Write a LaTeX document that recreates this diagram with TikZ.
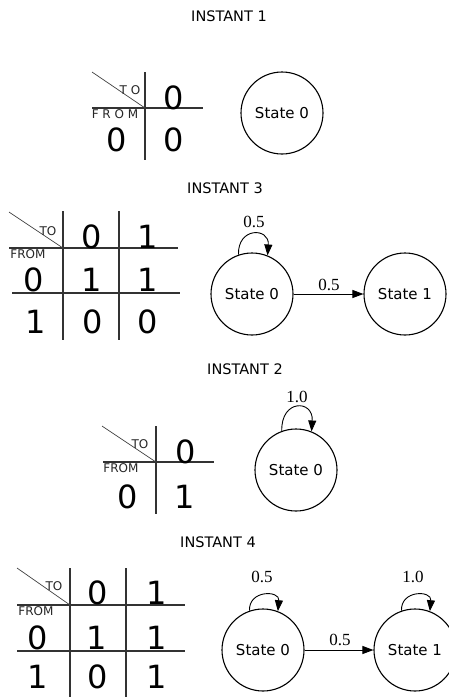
\documentclass[tikz,border=0pt]{standalone}
\usepackage{fontspec}
\setmainfont{DejaVu Sans}
\newfontfamily\lblfont{Liberation Serif}
\usetikzlibrary{arrows.meta}
\tikzset{
  title/.style={font=\fontsize{14.5}{16}\selectfont, inner sep=0pt},
  dig/.style={font=\fontsize{32}{34}\selectfont, inner sep=0pt},
  small/.style={font=\fontsize{12}{13}\selectfont, inner sep=0pt, text=black!85},
  tline/.style={line width=1.5pt, draw=black!80},
  diag/.style={line width=0.7pt, draw=black!75},
  state/.style={circle, draw, line width=1.1pt, minimum size=82pt, inner sep=0pt, font=\fontsize{15}{16}\selectfont},
  elabel/.style={font=\lblfont\fontsize{17}{18}\selectfont, inner sep=0pt},
  edge/.style={line width=0.9pt, -{Triangle[length=11pt,width=8pt]}},
}
\begin{document}
\begin{tikzpicture}[x=1pt,y=-1pt]
\useasboundingbox (0,0) rectangle (449,697);
\clip (0,0) rectangle (449,697);

% ---------------- INSTANT 1 ----------------
\node[title] (t1) at (229,16) {INSTANT 1};
\draw[tline] (145,72) -- (145,160);
\draw[tline] (92,108) -- (203,108);
\draw[diag] (92,72) -- (145,108);
\node[small] (a1to) at (130,90) {T O};
\node[small] (a1from) at (115,114) {F R O M};
\node[dig] (a1h0) at (174,98) {0};
\node[dig] (a1r0) at (117,140) {0};
\node[dig] (a1c00) at (174,140) {0};
\node[state] (a1s0) at (282,113) {State 0};

% ---------------- INSTANT 3 ----------------
\node[title] (t3) at (225,188) {INSTANT 3};
\draw[tline] (63,211) -- (63,340);
\draw[tline] (119,211) -- (119,340);
\draw[tline] (9,248) -- (178,248);
\draw[tline] (12,293) -- (180,293);
\draw[diag] (9,212) -- (63,248);
\node[small] (a3to) at (48,231) {TO};
\node[small] (a3from) at (28,254) {FROM};
\node[dig] (a3h0) at (92,237) {0};
\node[dig] (a3h1) at (148,237) {1};
\node[dig] (a3r0) at (34,280) {0};
\node[dig] (a3c00) at (92,280) {1};
\node[dig] (a3c01) at (148,280) {1};
\node[dig] (a3r1) at (36,322) {1};
\node[dig] (a3c10) at (93,322) {0};
\node[dig] (a3c11) at (148,322) {0};
\node[state] (a3s0) at (252,294) {State 0};
\node[state] (a3s1) at (405,294) {State 1};
\draw[edge] (a3s0) -- (a3s1);
\node[elabel] (a3e01) at (329,285) {0.5};
\draw[edge] (a3s0.109) .. controls +(-1,-28) and +(2,-28) .. (a3s0.68);
\node[elabel] (a3e00) at (254,222) {0.5};

% ---------------- INSTANT 2 ----------------
\node[title] (t2) at (245,369) {INSTANT 2};
\draw[tline] (156,426) -- (156,514);
\draw[tline] (103,462) -- (214,462);
\draw[diag] (102,426) -- (156,462);
\node[small] (a2to) at (140,444) {TO};
\node[small] (a2from) at (121,468) {FROM};
\node[dig] (a2h0) at (186,452) {0};
\node[dig] (a2r0) at (128,497) {0};
\node[dig] (a2c00) at (185,497) {1};
\node[state] (a2s0) at (296,470) {State 0};
\draw[edge] (a2s0.110) .. controls +(-1,-32) and +(2,-32) .. (a2s0.68);
\node[elabel] (a2e00) at (297,397) {1.0};

% ---------------- INSTANT 4 ----------------
\node[title] (t4) at (218,542) {INSTANT 4};
\draw[tline] (70,568) -- (70,697);
\draw[tline] (126,568) -- (126,697);
\draw[tline] (17,605) -- (185,605);
\draw[tline] (17,651) -- (185,651);
\draw[diag] (17,568) -- (70,605);
\node[small] (a4to) at (54,586) {TO};
\node[small] (a4from) at (36,611) {FROM};
\node[dig] (a4h0) at (98,593) {0};
\node[dig] (a4h1) at (157,593) {1};
\node[dig] (a4r0) at (38,638) {0};
\node[dig] (a4c00) at (97,638) {1};
\node[dig] (a4c01) at (157,638) {1};
\node[dig] (a4r1) at (38,677) {1};
\node[dig] (a4c10) at (98,677) {0};
\node[dig] (a4c11) at (157,677) {1};
\node[state] (a4s0) at (263,650) {State 0};
\node[state] (a4s1) at (415,650) {State 1};
\draw[edge] (a4s0) -- (a4s1);
\node[elabel] (a4e01) at (340,640) {0.5};
\draw[edge] (a4s0.109) .. controls +(-1,-21) and +(2,-21) .. (a4s0.69);
\node[elabel] (a4e00) at (262,577) {0.5};
\draw[edge] (a4s1.109) .. controls +(-1,-21) and +(2,-21) .. (a4s1.69);
\node[elabel] (a4e11) at (413,577) {1.0};
\end{tikzpicture}
\end{document}
